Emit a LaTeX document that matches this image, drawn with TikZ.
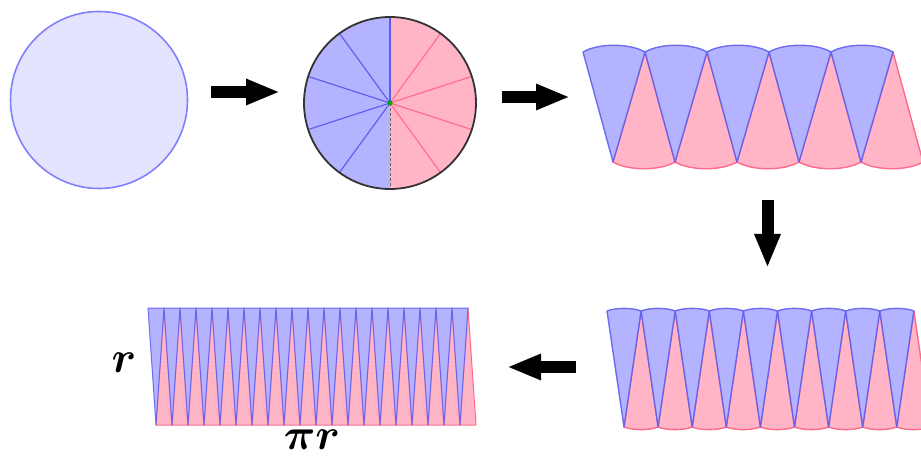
\documentclass[tikz,border=0pt]{standalone}
\usepackage{bm}
\usetikzlibrary{arrows.meta}
\definecolor{discfill}{HTML}{E4E4FF}
\definecolor{discedge}{HTML}{8080FF}
\definecolor{wedgeblue}{HTML}{B3B3FF}
\definecolor{wedgepink}{HTML}{FFB5C5}
\definecolor{edgeblue}{HTML}{5A5AF0}
\definecolor{edgered}{HTML}{FF6A8C}

\begin{document}
\begin{tikzpicture}[x=1pt,y=-1pt,
  wedgeB/.style={fill=wedgeblue,draw=edgeblue,draw opacity=0.85,line width=1.4pt,line join=round},
  wedgeR/.style={fill=wedgepink,draw=edgered,line width=1.4pt,line join=round},
  bigarr/.style={line width=12pt,-{Triangle[length=34pt,width=24pt]}},
  lbl/.style={scale=4.4,inner sep=0pt}]
\useasboundingbox (0,0) rectangle (921,457);
% whole disc
\node[circle,fill=discfill,draw=discedge,line width=1.6pt,minimum size=177pt,inner sep=0pt] (disc) at (99,100) {};
% disc cut into ten wedges
\node[circle,minimum size=172pt,inner sep=0pt,outer sep=0pt] (cut) at (390,103) {};
\begin{scope}
  \clip (cut.center) circle[radius=86pt];
  \fill[wedgeblue] (304,17) rectangle (390,189);
  \fill[wedgepink] (390,17) rectangle (476,189);
\end{scope}
\foreach \a in {126,162,198,234} \draw[edgeblue,line width=1.1pt] (cut.center) -- (cut.\a);
\foreach \a in {54,18,-18,-54} \draw[edgered,line width=1.1pt] (cut.center) -- (cut.\a);
\draw[edgeblue,line width=1.1pt] (cut.center) -- (cut.north);
\draw[black!60,densely dashed,line width=1pt] (cut.center) -- (cut.south);
\draw[black!80,line width=1.8pt] (cut.center) circle[radius=86pt];
\fill[green!65!black] (cut.center) circle[radius=2.5pt];
% ten wedges laid out
\foreach \i [evaluate=\i as \x using 583+62*\i] in {0,...,4}{
  \filldraw[wedgeR] (\x+62,52) -- (\x+30,162) .. controls (\x+45.5,171) and (\x+76.5,171) .. (\x+92,162) -- cycle;
  \filldraw[wedgeB] (\x,52) .. controls (\x+15.5,43) and (\x+46.5,43) .. (\x+62,52) -- (\x+30,162) -- cycle;
}
% finer wedges
\foreach \i [evaluate=\i as \x using 607+34.1*\i] in {0,...,8}{
  \filldraw[wedgeR] (\x+34.1,311) -- (\x+17,427) .. controls (\x+25.5,430.5) and (\x+42.6,430.5) .. (\x+51.1,427) -- cycle;
  \filldraw[wedgeB] (\x,311) .. controls (\x+8.5,307.5) and (\x+25.6,307.5) .. (\x+34.1,311) -- (\x+17,427) -- cycle;
}
% almost a rectangle
\foreach \i [evaluate=\i as \x using 148+16*\i] in {0,...,19}{
  \filldraw[wedgeR,line width=1pt] (\x+16,308) -- (\x+24,425) -- (\x+8,425) -- cycle;
  \filldraw[wedgeB,line width=1pt] (\x,308) -- (\x+16,308) -- (\x+8,425) -- cycle;
}
\node[lbl,anchor=base] (rad) at (124,372) {$\bm{r}$};
\node[lbl,anchor=base] (halfc) at (312,449) {$\bm{\pi r}$};
% arrows between the stages
\coordinate (a1) at (211,92);  \coordinate (b1) at (280,92);
\coordinate (a2) at (502,97);  \coordinate (b2) at (570,97);
\coordinate (a3) at (767.5,200); \coordinate (b3) at (767.5,268);
\coordinate (a4) at (576,367); \coordinate (b4) at (507,367);
\draw[bigarr] (a1) -- (b1);
\draw[bigarr] (a2) -- (b2);
\draw[bigarr] (a3) -- (b3);
\draw[bigarr] (a4) -- (b4);
\end{tikzpicture}
\end{document}
